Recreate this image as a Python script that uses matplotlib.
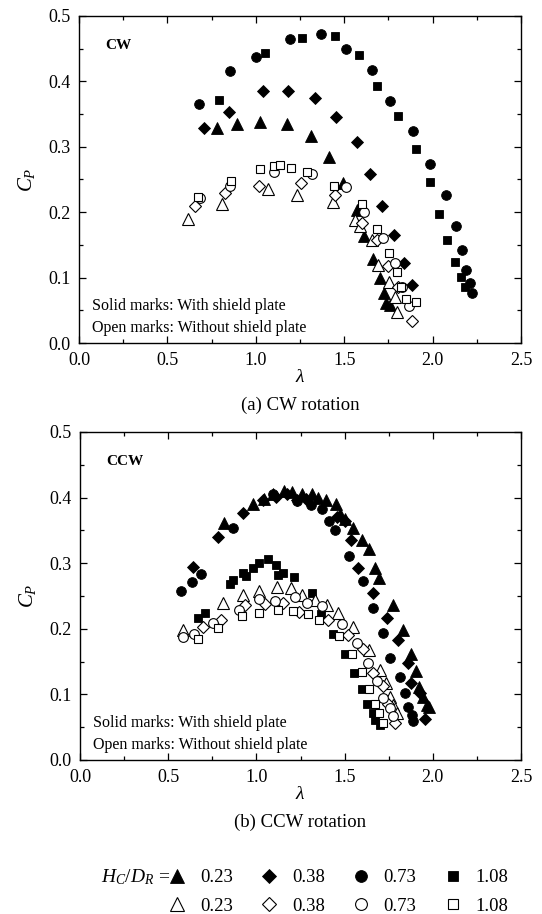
import matplotlib
matplotlib.use("Agg")
import matplotlib.pyplot as plt
from matplotlib.lines import Line2D
from matplotlib.ticker import MultipleLocator

plt.rcParams['font.family'] = ['Liberation Serif', 'DejaVu Serif']
plt.rcParams['mathtext.fontset'] = 'custom'
plt.rcParams['mathtext.it'] = 'Liberation Serif:italic'
plt.rcParams['mathtext.rm'] = 'Liberation Serif'

# ---------------- (a) CW rotation ----------------
cw_fill_023_x = [0.779, 0.896, 1.022, 1.178, 1.310, 1.416, 1.495, 1.570, 1.614, 1.665, 1.702, 1.727, 1.736, 1.759]
cw_fill_023_y = [0.329, 0.335, 0.338, 0.335, 0.316, 0.284, 0.244, 0.204, 0.163, 0.129, 0.099, 0.077, 0.061, 0.058]
cw_fill_038_x = [0.707, 0.848, 1.041, 1.182, 1.333, 1.452, 1.571, 1.644, 1.712, 1.784, 1.840, 1.882]
cw_fill_038_y = [0.329, 0.353, 0.386, 0.385, 0.375, 0.345, 0.308, 0.259, 0.210, 0.165, 0.123, 0.088]
cw_fill_073_x = [0.681, 0.852, 1.001, 1.192, 1.371, 1.512, 1.655, 1.759, 1.889, 1.985, 2.074, 2.130, 2.168, 2.187, 2.212, 2.223]
cw_fill_073_y = [0.365, 0.416, 0.438, 0.465, 0.472, 0.450, 0.418, 0.370, 0.324, 0.274, 0.226, 0.179, 0.142, 0.112, 0.091, 0.077]
cw_fill_108_x = [0.790, 1.054, 1.263, 1.450, 1.586, 1.684, 1.806, 1.904, 1.985, 2.038, 2.083, 2.129, 2.159, 2.181]
cw_fill_108_y = [0.372, 0.443, 0.467, 0.469, 0.440, 0.393, 0.347, 0.296, 0.246, 0.197, 0.157, 0.124, 0.101, 0.086]

cw_open_023_x = [0.618, 0.811, 1.071, 1.231, 1.439, 1.561, 1.589, 1.655, 1.693, 1.755, 1.787, 1.797]
cw_open_023_y = [0.189, 0.213, 0.236, 0.227, 0.216, 0.188, 0.179, 0.158, 0.119, 0.094, 0.071, 0.048]
cw_open_038_x = [0.654, 0.828, 1.020, 1.254, 1.450, 1.599, 1.684, 1.746, 1.806, 1.882]
cw_open_038_y = [0.209, 0.230, 0.240, 0.244, 0.227, 0.184, 0.158, 0.118, 0.086, 0.034]
cw_open_073_x = [0.684, 0.854, 1.105, 1.320, 1.508, 1.614, 1.718, 1.785, 1.825, 1.867]
cw_open_073_y = [0.222, 0.240, 0.262, 0.258, 0.239, 0.200, 0.161, 0.122, 0.086, 0.057]
cw_open_108_x = [0.673, 0.862, 1.022, 1.103, 1.137, 1.199, 1.288, 1.444, 1.599, 1.684, 1.752, 1.799, 1.821, 1.848, 1.906]
cw_open_108_y = [0.223, 0.248, 0.266, 0.271, 0.272, 0.268, 0.262, 0.240, 0.213, 0.175, 0.138, 0.108, 0.085, 0.068, 0.062]

# ---------------- (b) CCW rotation ----------------
ccw_fill_023_x = [0.816, 0.983, 1.043, 1.096, 1.156, 1.204, 1.257, 1.313, 1.351, 1.393, 1.451, 1.474, 1.502, 1.550, 1.597, 1.640, 1.672, 1.697, 1.776, 1.833, 1.875, 1.905, 1.924, 1.946, 1.965, 1.980]
ccw_fill_023_y = [0.361, 0.391, 0.398, 0.406, 0.410, 0.408, 0.405, 0.406, 0.400, 0.397, 0.390, 0.375, 0.368, 0.354, 0.335, 0.321, 0.293, 0.277, 0.236, 0.198, 0.161, 0.135, 0.112, 0.096, 0.084, 0.081]
ccw_fill_038_x = [0.642, 0.784, 0.922, 1.036, 1.111, 1.172, 1.228, 1.281, 1.455, 1.502, 1.534, 1.578, 1.663, 1.742, 1.805, 1.861, 1.875, 1.927, 1.956]
ccw_fill_038_y = [0.294, 0.340, 0.377, 0.396, 0.401, 0.406, 0.396, 0.398, 0.371, 0.365, 0.336, 0.292, 0.255, 0.217, 0.183, 0.148, 0.117, 0.102, 0.063]
ccw_fill_073_x = [0.571, 0.633, 0.686, 0.865, 1.096, 1.228, 1.308, 1.370, 1.413, 1.446, 1.527, 1.606, 1.663, 1.716, 1.757, 1.814, 1.842, 1.861, 1.880, 1.890]
ccw_fill_073_y = [0.258, 0.271, 0.284, 0.354, 0.405, 0.395, 0.389, 0.383, 0.365, 0.350, 0.311, 0.273, 0.232, 0.194, 0.156, 0.127, 0.102, 0.081, 0.069, 0.060]
ccw_fill_108_x = [0.671, 0.709, 0.850, 0.869, 0.922, 0.941, 0.979, 1.017, 1.068, 1.111, 1.124, 1.149, 1.215, 1.317, 1.366, 1.436, 1.502, 1.553, 1.597, 1.625, 1.659, 1.672, 1.701]
ccw_fill_108_y = [0.217, 0.224, 0.268, 0.275, 0.285, 0.280, 0.292, 0.301, 0.306, 0.297, 0.282, 0.285, 0.279, 0.255, 0.223, 0.192, 0.162, 0.133, 0.108, 0.085, 0.071, 0.061, 0.053]

ccw_open_023_x = [0.582, 0.813, 0.922, 1.017, 1.115, 1.194, 1.257, 1.332, 1.402, 1.464, 1.550, 1.640, 1.701, 1.735, 1.757, 1.776, 1.795]
ccw_open_023_y = [0.198, 0.240, 0.252, 0.258, 0.264, 0.262, 0.251, 0.244, 0.236, 0.224, 0.203, 0.168, 0.137, 0.117, 0.096, 0.084, 0.071]
ccw_open_038_x = [0.699, 0.797, 0.935, 1.049, 1.153, 1.243, 1.408, 1.521, 1.606, 1.663, 1.716, 1.748, 1.786]
ccw_open_038_y = [0.202, 0.214, 0.236, 0.238, 0.239, 0.226, 0.213, 0.190, 0.169, 0.133, 0.113, 0.086, 0.057]
ccw_open_073_x = [0.586, 0.648, 0.756, 0.901, 1.017, 1.105, 1.219, 1.285, 1.374, 1.483, 1.568, 1.635, 1.682, 1.716, 1.757, 1.772]
ccw_open_073_y = [0.188, 0.192, 0.209, 0.229, 0.245, 0.243, 0.249, 0.240, 0.234, 0.207, 0.179, 0.148, 0.120, 0.095, 0.079, 0.067]
ccw_open_108_x = [0.667, 0.780, 0.916, 1.017, 1.121, 1.209, 1.294, 1.357, 1.470, 1.544, 1.601, 1.640, 1.672, 1.697, 1.716]
ccw_open_108_y = [0.184, 0.201, 0.219, 0.224, 0.228, 0.227, 0.222, 0.213, 0.189, 0.161, 0.134, 0.108, 0.085, 0.072, 0.057]

ratios = ['0.23', '0.38', '0.73', '1.08']
markers = ['^', 'D', 'o', 's']
msizes = [8.0, 5.8, 7.0, 5.6]
leg_msizes = [9.5, 7.0, 8.5, 7.6]

cw_fill = [(cw_fill_023_x, cw_fill_023_y), (cw_fill_038_x, cw_fill_038_y),
           (cw_fill_073_x, cw_fill_073_y), (cw_fill_108_x, cw_fill_108_y)]
cw_open = [(cw_open_023_x, cw_open_023_y), (cw_open_038_x, cw_open_038_y),
           (cw_open_073_x, cw_open_073_y), (cw_open_108_x, cw_open_108_y)]
ccw_fill = [(ccw_fill_023_x, ccw_fill_023_y), (ccw_fill_038_x, ccw_fill_038_y),
            (ccw_fill_073_x, ccw_fill_073_y), (ccw_fill_108_x, ccw_fill_108_y)]
ccw_open = [(ccw_open_023_x, ccw_open_023_y), (ccw_open_038_x, ccw_open_038_y),
            (ccw_open_073_x, ccw_open_073_y), (ccw_open_108_x, ccw_open_108_y)]

fig = plt.figure(figsize=(5.42, 9.14), dpi=100)
ax1 = fig.add_axes([79/542, 1 - 343/914, 442/542, 327/914])
ax2 = fig.add_axes([80/542, 1 - 760/914, 441/542, 328/914])

FS = 13


def draw(ax, fill, opn, tag, caption):
    for (x, y), m, ms in zip(fill, markers, msizes):
        ax.plot(x, y, linestyle='none', marker=m, ms=ms, mfc='black', mec='black', mew=0.6)
    for (x, y), m, ms in zip(opn, markers, msizes):
        ax.plot(x, y, linestyle='none', marker=m, ms=ms, mfc='white', mec='black', mew=0.8)
    ax.set_xlim(0, 2.5)
    ax.set_ylim(0, 0.5)
    ax.xaxis.set_major_locator(MultipleLocator(0.5))
    ax.xaxis.set_minor_locator(MultipleLocator(0.25))
    ax.yaxis.set_major_locator(MultipleLocator(0.1))
    ax.yaxis.set_minor_locator(MultipleLocator(0.05))
    ax.xaxis.set_major_formatter(plt.FormatStrFormatter('%.1f'))
    ax.yaxis.set_major_formatter(plt.FormatStrFormatter('%.1f'))
    ax.tick_params(which='both', direction='in', top=True, right=True, labelsize=FS, width=0.9)
    ax.tick_params(which='major', length=5)
    ax.tick_params(axis='x', which='major', pad=6.5)
    ax.tick_params(axis='y', which='major', pad=6)
    ax.tick_params(which='minor', length=3)
    for s in ax.spines.values():
        s.set_linewidth(1.0)
    ax.set_xlabel(r'$\lambda$', fontsize=FS + 1, labelpad=0)
    ax.set_ylabel(r'$C_P$', fontsize=FS + 2, labelpad=8)
    ax.text(0.06, 0.91, tag, transform=ax.transAxes, fontsize=11, fontweight='bold', va='center')
    ax.text(0.03, 0.112, 'Solid marks: With shield plate', transform=ax.transAxes, fontsize=11.5, va='center')
    ax.text(0.03, 0.045, 'Open marks: Without shield plate', transform=ax.transAxes, fontsize=11.5, va='center')
    ax.text(0.5, -0.19, caption, transform=ax.transAxes, fontsize=FS + 0.5, ha='center', va='center')


draw(ax1, cw_fill, cw_open, 'CW', '(a) CW rotation')
draw(ax2, ccw_fill, ccw_open, 'CCW', '(b) CCW rotation')

handles, labels = [], []
for m, ms, r in zip(markers, leg_msizes, ratios):
    handles.append(Line2D([], [], linestyle='none', marker=m, ms=ms, mfc='black', mec='black', mew=0.6))
    labels.append(r)
    handles.append(Line2D([], [], linestyle='none', marker=m, ms=ms, mfc='white', mec='black', mew=0.8))
    labels.append(r)

leg = fig.legend(handles, labels, ncol=4, loc='center left', bbox_to_anchor=(168/542, 1 - 892/914),
                 frameon=False, fontsize=FS + 0.5, handlelength=1.0, handletextpad=0.7,
                 columnspacing=1.45, labelspacing=0.6, borderpad=0, borderaxespad=0)
fig.text(170/542, 1 - 877/914, r'$H_C/D_R$ =', fontsize=FS + 1, ha='right', va='center')

fig.savefig('out.png', dpi=100)
